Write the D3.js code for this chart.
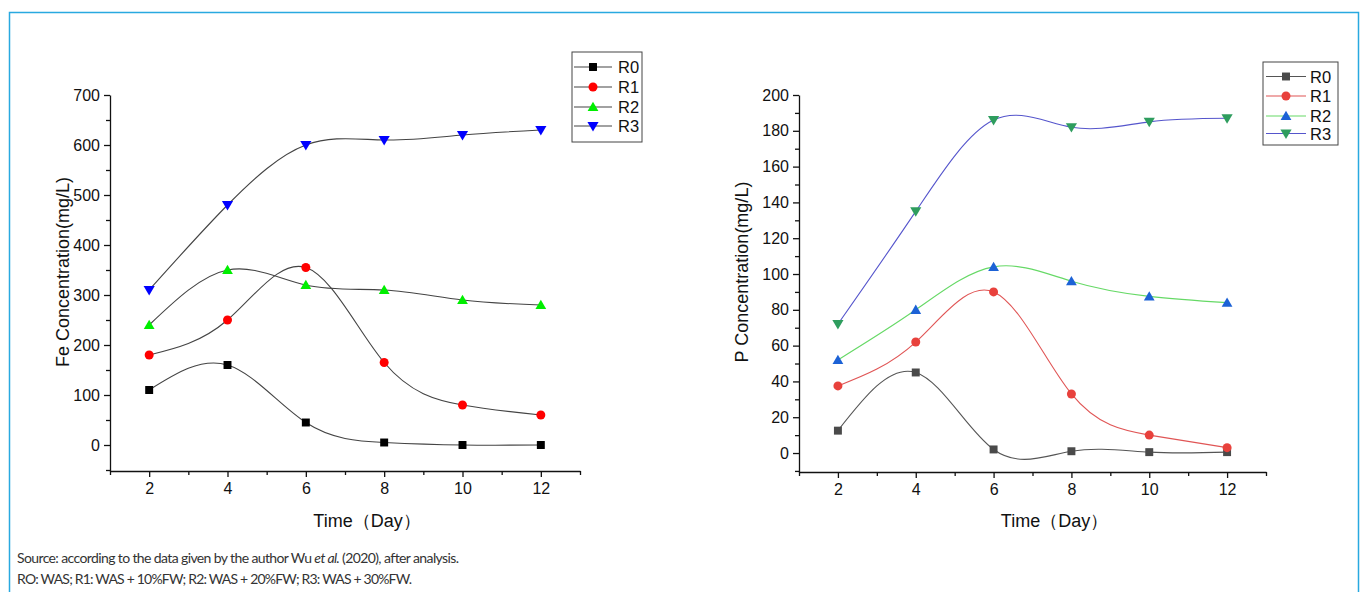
<!DOCTYPE html>
<html><head><meta charset="utf-8">
<script src="https://cdn.jsdelivr.net/npm/d3@7"></script>
<style>body{margin:0;background:#fff}svg{display:block}</style>
</head><body>
<svg id="c" width="1360" height="592"></svg>
<script>
const days = [2, 4, 6, 8, 10, 12];
const seriesNames = ["R0", "R1", "R2", "R3"];
// Fe concentration (mg/L)
const feR0 = [110, 160, 45, 5, 0, 0];
const feR1 = [180, 250, 355, 165, 80, 60];
const feR2 = [240, 350, 320, 310, 290, 280];
const feR3 = [310, 480, 600, 610, 620, 630];
// P concentration (mg/L)
const pR0 = [12.5, 45, 2, 1, 0.5, 0.5];
const pR1 = [37.5, 62, 90, 33, 10, 3];
const pR2 = [52, 80, 104, 96, 87.5, 84];
const pR3 = [72, 135, 186, 182, 185, 187];
const xTicks = [2, 4, 6, 8, 10, 12];
const feTicks = [0, 100, 200, 300, 400, 500, 600, 700];
const pTicks = [0, 20, 40, 60, 80, 100, 120, 140, 160, 180, 200];
const xTitle = "Time（Day）";
const feTitle = "Fe Concentration(mg/L)";
const pTitle = "P Concentration(mg/L)";
const caption1 = ["Source: according to the data given by the author Wu ", "et al.", " (2020), after analysis."];
const caption2 = "RO: WAS; R1: WAS + 10%FW; R2: WAS + 20%FW; R3: WAS + 30%FW.";

const svg = d3.select("#c");
const FONT = "'Liberation Sans', Arial, sans-serif";
const CAPFONT = "Lato, 'Open Sans', sans-serif";

// frame
svg.append("path").attr("d", "M9.5,600 V12.5 H1358.5 V600").attr("fill", "none")
  .attr("stroke", "#29a9e0").attr("stroke-width", 1.5);

const shapes = [d3.symbolSquare, d3.symbolCircle, d3.symbolTriangle, "down"];
function marker(g, shapeIdx, x, y, fill, size) {
  if (shapeIdx === 3) {
    const s = size;
    g.append("path").attr("d", `M${x - s * 0.62},${y - s * 0.45} L${x + s * 0.62},${y - s * 0.45} L${x},${y + s * 0.6} Z`).attr("fill", fill);
  } else {
    const area = shapeIdx === 0 ? size * size * 0.78 : shapeIdx === 1 ? Math.PI * (size * 0.5) ** 2 : size * size * 0.62;
    const sym = d3.symbol().type(shapes[shapeIdx]).size(area);
    const dy = shapeIdx === 2 ? 1 : 0;
    g.append("path").attr("d", sym()).attr("transform", `translate(${x},${y + dy})`).attr("fill", fill);
  }
}

function chart(cfg) {
  const x = d3.scaleLinear().domain([1, 13]).range(cfg.xr);
  const y = d3.scaleLinear().domain(cfg.yd).range(cfg.yr);
  const g = svg.append("g");
  // x axis
  g.append("g").attr("transform", `translate(0,${cfg.yr[0]})`)
    .call(d3.axisBottom(x).tickValues(xTicks).tickSize(6).tickPadding(6).tickSizeOuter(0));
  g.append("g").attr("transform", `translate(0,${cfg.yr[0]})`)
    .call(d3.axisBottom(x).tickValues([1, 3, 5, 7, 9, 11, 13]).tickSize(4).tickFormat("").tickSizeOuter(0))
    .select(".domain").remove();
  // y axis
  g.append("g").attr("transform", `translate(${cfg.xr[0]},0)`)
    .call(d3.axisLeft(y).tickValues(cfg.yTicks).tickSize(6).tickPadding(4).tickSizeOuter(0));
  g.append("g").attr("transform", `translate(${cfg.xr[0]},0)`)
    .call(d3.axisLeft(y).tickValues(cfg.yMinor).tickSize(4).tickFormat("").tickSizeOuter(0))
    .select(".domain").remove();
  g.selectAll(".domain, .tick line").attr("stroke", "#111").attr("stroke-width", 1.3);
  g.selectAll(".tick text").attr("font-family", FONT).attr("font-size", 16).attr("fill", "#111");
  // titles
  g.append("text").attr("x", (x(1) + x(13)) / 2 + 22).attr("y", 527).attr("text-anchor", "middle")
    .attr("font-family", FONT).attr("font-size", 18).attr("fill", "#111").text(xTitle);
  g.append("text").attr("transform", `translate(${cfg.ytx},${cfg.yty}) rotate(-90)`).attr("text-anchor", "middle")
    .attr("font-family", FONT).attr("font-size", 18).attr("fill", "#111").text(cfg.yTitle);
  // lines
  const line = d3.line().x((d, i) => x(days[i])).y(d => y(d)).curve(d3.curveNatural);
  cfg.series.forEach((s, k) => {
    g.append("path").attr("d", line(s)).attr("fill", "none").attr("stroke", cfg.lineCol[k]).attr("stroke-width", 1.1);
  });
  cfg.series.forEach((s, k) => {
    s.forEach((v, i) => marker(g, k, x(days[i]), y(v), cfg.markCol[k], cfg.msize));
  });
  // legend
  const L = cfg.legend;
  g.append("rect").attr("x", L.x).attr("y", L.y).attr("width", L.w).attr("height", L.h)
    .attr("fill", "#fff").attr("stroke", "#444").attr("stroke-width", 1);
  seriesNames.forEach((n, k) => {
    const yy = L.rows[k];
    g.append("line").attr("x1", L.lx0).attr("x2", L.lx1).attr("y1", yy).attr("y2", yy)
      .attr("stroke", cfg.lineCol[k]).attr("stroke-width", 1.1);
    marker(g, k, (L.lx0 + L.lx1) / 2, yy, cfg.markCol[k], cfg.msize);
    g.append("text").attr("x", L.tx).attr("y", yy + 6).attr("font-family", FONT).attr("font-size", 16.5)
      .attr("fill", "#111").text(n);
  });
}

chart({
  xr: [110, 580], yd: [-52, 700], yr: [471, 95], yTicks: feTicks,
  yMinor: [-50, 50, 150, 250, 350, 450, 550, 650],
  yTitle: feTitle, ytx: 69, yty: 272,
  series: [feR0, feR1, feR2, feR3],
  lineCol: ["#444", "#444", "#444", "#444"],
  markCol: ["#000000", "#ff0000", "#00ee00", "#0000ff"],
  msize: 9,
  legend: { x: 572, y: 52, w: 70, h: 90, rows: [67, 87, 107, 126], lx0: 574, lx1: 612, tx: 618 }
});
chart({
  xr: [799, 1266], yd: [-10.6, 200], yr: [472, 95], yTicks: pTicks,
  yMinor: [-10, 10, 30, 50, 70, 90, 110, 130, 150, 170, 190],
  yTitle: pTitle, ytx: 748, yty: 272,
  series: [pR0, pR1, pR2, pR3],
  lineCol: ["#555555", "#e05555", "#66d966", "#5555cc"],
  markCol: ["#4a4a4a", "#e8413c", "#1c62d6", "#2e9d5e"],
  msize: 9,
  legend: { x: 1263, y: 62, w: 75, h: 83, rows: [76.5, 96, 116, 133.5], lx0: 1266, lx1: 1306, tx: 1310 }
});

// caption
const cap = svg.append("text").attr("x", 17).attr("y", 563).attr("font-family", CAPFONT)
  .attr("font-size", 14).attr("fill", "#333");
caption1.forEach((t, i) => cap.append("tspan").attr("font-style", i === 1 ? "italic" : "normal").text(t));
cap.attr("textLength", 442).attr("lengthAdjust", "spacing");
svg.append("text").attr("x", 17).attr("y", 584).attr("font-family", CAPFONT)
  .attr("font-size", 14).attr("fill", "#333").attr("textLength", 395).attr("lengthAdjust", "spacing").text(caption2);
</script>
</body></html>
